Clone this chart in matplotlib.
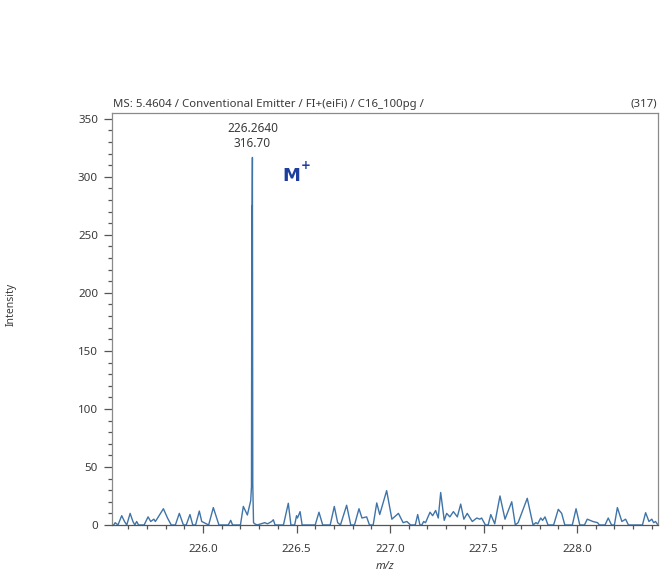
"""
FI mass spectrum of C16 (100 pg), conventional emitter: M+ at m/z 226.264.
"""

import matplotlib
matplotlib.use("Agg")
import matplotlib.pyplot as plt
from matplotlib.ticker import MultipleLocator

plt.rcParams["font.family"] = ["Noto Sans", "DejaVu Sans"]

# profile spectrum (peak tops and valleys)
mz = [225.513, 225.522, 225.530, 225.545, 225.565, 225.580, 225.592, 225.610,
      225.625, 225.635, 225.645, 225.655, 225.685, 225.706, 225.720, 225.737,
      225.745, 225.757, 225.788, 225.810, 225.830, 225.852, 225.873, 225.895,
      225.910, 225.930, 225.945, 225.960, 225.980, 225.993, 226.030, 226.055,
      226.085, 226.135, 226.148, 226.158, 226.200, 226.2155, 226.237, 226.255,
      226.259, 226.261, 226.2625, 226.264, 226.266, 226.270, 226.276, 226.290,
      226.310, 226.330, 226.345, 226.367, 226.376, 226.385, 226.430, 226.456,
      226.470, 226.490, 226.500, 226.505, 226.519, 226.530, 226.600, 226.620,
      226.640, 226.680, 226.702, 226.720, 226.735, 226.768, 226.790, 226.810,
      226.834, 226.850, 226.875, 226.890, 226.910, 226.929, 226.945, 226.982,
      227.010, 227.045, 227.070, 227.090, 227.110, 227.135, 227.148, 227.160,
      227.170, 227.180, 227.190, 227.214, 227.228, 227.244, 227.258, 227.271,
      227.290, 227.303, 227.320, 227.339, 227.360, 227.378, 227.395, 227.413,
      227.440, 227.464, 227.480, 227.490, 227.510, 227.525, 227.539, 227.560,
      227.588, 227.615, 227.651, 227.670, 227.685, 227.734, 227.765, 227.780,
      227.790, 227.806, 227.816, 227.829, 227.845, 227.875, 227.900, 227.918,
      227.935, 227.975, 227.995, 228.015, 228.040, 228.055, 228.085, 228.110,
      228.120, 228.150, 228.167, 228.185, 228.200, 228.216, 228.240, 228.260,
      228.275, 228.350, 228.367, 228.385, 228.400, 228.410, 228.420, 228.433]
intensity = [0, 0, 2, 0, 8, 3, 0, 10,
             3, 0, 3, 0, 0, 7, 3, 5,
             3, 6, 14, 6, 0, 0, 10, 0,
             0, 9, 0, 0, 12, 3, 0, 15,
             0, 0, 4, 0, 0, 16, 8.6, 21,
             33, 275, 265, 316.7, 35, 2, 1, 0,
             1, 2, 1, 3, 4.5, 0, 0, 18.7,
             0, 0, 8, 6, 11.5, 0, 0, 11,
             0, 0, 16, 2, 0, 17, 0, 0,
             14, 6, 7, 0, 0, 19, 9, 29.6,
             5, 10, 2, 3, 0, 0, 9, 0,
             0, 3, 2, 11, 8, 12.5, 6, 28,
             4, 10, 7, 11.5, 7, 18, 5, 10,
             3, 6, 5, 6, 0, 0, 9, 1,
             25, 5, 20, 0, 2, 23, 0, 2,
             1, 6, 4, 7, 0, 0, 13.5, 10,
             0, 0, 14, 0, 0, 5, 3, 2,
             0, 0, 6, 0, 0, 15, 3, 5,
             0, 0, 10.6, 3, 5, 2, 3, 0]

peak_mz = 226.2640
peak_int = 316.70
title_left = "MS: 5.4604 / Conventional Emitter / FI+(eiFi) / C16_100pg /"
title_right = "(317)"

line_col = "#3f74a8"
grey = "#8a8a8a"
txt = "#3a3a3a"
blue = "#1c3f9e"

fig = plt.figure(figsize=(6.65, 5.73), dpi=100)
ax = fig.add_axes([0.1684, 0.0838, 0.821, 0.719])

ax.plot(mz, intensity, color=line_col, lw=1.0)

ax.set_xlim(225.513, 228.433)
ax.set_ylim(0, 355)
ax.xaxis.set_major_locator(MultipleLocator(0.5))
ax.xaxis.set_minor_locator(MultipleLocator(0.1))
ax.yaxis.set_major_locator(MultipleLocator(50))
ax.yaxis.set_minor_locator(MultipleLocator(10))
ax.xaxis.set_major_formatter(lambda v, p: f"{v:.1f}")

for s in ax.spines.values():
    s.set_color(grey)
    s.set_linewidth(0.9)
ax.spines["bottom"].set_color("#555555")
ax.tick_params(which="major", length=6, width=0.9, color="#555555",
               labelsize=8.3, labelcolor=txt, pad=4)
ax.tick_params(which="minor", length=3, width=0.9, color="#555555")
ax.tick_params(axis="x", which="major", pad=8)

ax.text(0.002, 1.008, title_left, transform=ax.transAxes, fontsize=8.2,
        color=txt, ha="left", va="bottom")
ax.text(0.998, 1.008, title_right, transform=ax.transAxes, fontsize=8.2,
        color=txt, ha="right", va="bottom")

ax.annotate(f"{peak_mz:.4f}\n{peak_int:.2f}", (peak_mz, peak_int),
            xytext=(0, 5), textcoords="offset points", ha="center",
            va="bottom", fontsize=8.5, color=txt, linespacing=1.25)

ax.text(226.47, 301, "M", fontsize=13, fontweight="bold", color=blue,
        family="DejaVu Sans", ha="center", va="center")
ax.text(226.55, 310, "+", fontsize=8.5, fontweight="bold", color=blue,
        family="DejaVu Sans", ha="center", va="center")

ax.set_xlabel("m/z", fontsize=8, style="italic", color=txt, labelpad=4)
fig.text(0.016, 0.468, "Intensity", rotation=90, fontsize=7.5, color=txt,
         ha="center", va="center")

fig.savefig("out.png", dpi=100)
